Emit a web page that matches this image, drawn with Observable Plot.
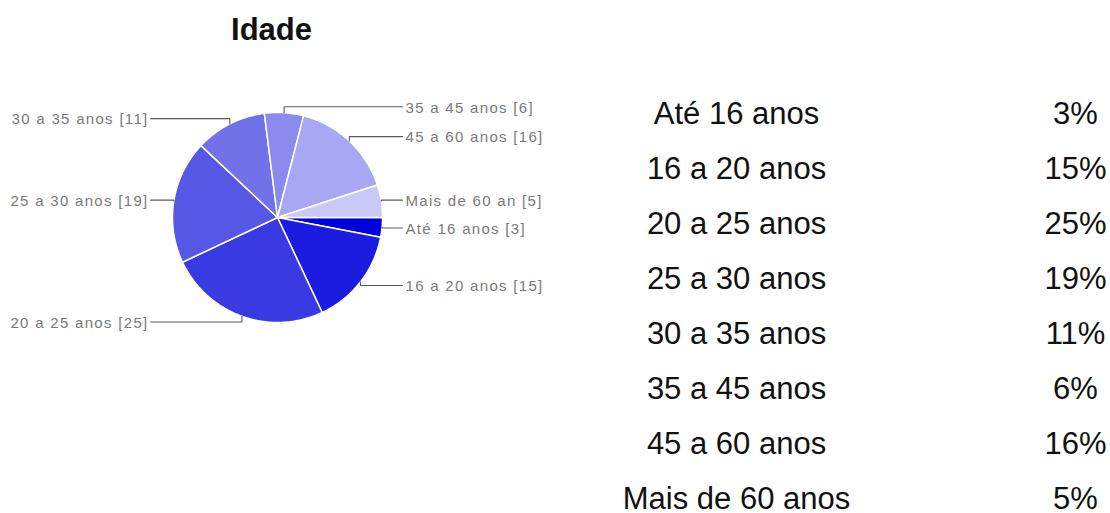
<!DOCTYPE html>
<html>
<head>
<meta charset="utf-8">
<script src="https://cdn.jsdelivr.net/npm/d3@7"></script>
<script src="https://cdn.jsdelivr.net/npm/@observablehq/plot@0.6"></script>
<style>
  html, body { margin: 0; padding: 0; background: #ffffff; }
  #chart svg { display: block; font-family: "Liberation Sans", Arial, Helvetica, sans-serif; }
</style>
</head>
<body>
<div id="chart"></div>
<script>
// ---- Data ----
const title = "Idade";
const categories = ["Até 16 anos", "16 a 20 anos", "20 a 25 anos", "25 a 30 anos", "30 a 35 anos", "35 a 45 anos", "45 a 60 anos", "Mais de 60 anos"];
const pieLabels = ["Até 16 anos", "16 a 20 anos", "20 a 25 anos", "25 a 30 anos", "30 a 35 anos", "35 a 45 anos", "45 a 60 anos", "Mais de 60 an"];
const counts = [3, 15, 25, 19, 11, 6, 16, 5];
const sliceColors = ["#0000dc", "#1c1ce0", "#3a3ae2", "#5757e6", "#7171e8", "#8b8bee", "#a7a7f3", "#c9c9f8"];

// ---- Layout ----
const W = 1110, H = 513;
const cx = 277, cy = 217, r = 105;
const total = d3.sum(counts);

// slice polygons (angles clockwise from 3 o'clock)
const slices = [];
let cum = 0;
counts.forEach((c, i) => {
  const a0 = cum / total * 2 * Math.PI;
  const a1 = (cum + c) / total * 2 * Math.PI;
  cum += c;
  const pts = [{i, x: cx, y: cy}];
  const n = Math.max(2, Math.ceil((a1 - a0) / (Math.PI / 180)));
  for (let k = 0; k <= n; k++) {
    const a = a0 + (a1 - a0) * k / n;
    pts.push({i, x: cx + r * Math.cos(a), y: cy + r * Math.sin(a)});
  }
  pts.push({i, x: cx, y: cy});
  slices.push({i, a0, a1, mid: (a0 + a1) / 2, pts});
});
const slicePts = slices.flatMap(s => s.pts);

// leader lines & labels
const leaderPts = [];
const labelRows = [];
slices.forEach(s => {
  const c = Math.cos(s.mid), sn = Math.sin(s.mid);
  const right = c > 0;
  const ex = cx + r * c, ey = cy + r * sn;
  const ly = cy + (r + 6) * sn;
  const endX = right ? cx + r + 20 : cx - r - 22;
  leaderPts.push({i: s.i, x: ex, y: ey}, {i: s.i, x: ex, y: ly}, {i: s.i, x: endX, y: ly});
  labelRows.push({
    x: right ? cx + r + 23 : cx - r - 24,
    y: ly + 1,
    text: `${pieLabels[s.i]} [${counts[s.i]}]`,
    anchor: right ? "start" : "end"
  });
});

// table rows
const tableRows = categories.map((cat, i) => ({
  cat,
  pct: Math.round(counts[i] / total * 100) + "%",
  y: 113.5 + i * 55
}));

const svg = Plot.plot({
  width: W,
  height: H,
  margin: 0,
  x: {domain: [0, W], range: [0, W], axis: null},
  y: {domain: [0, H], range: [0, H], axis: null},
  color: {type: "identity"},
  marks: [
    Plot.line(slicePts, {
      x: "x", y: "y", z: "i",
      fill: d => sliceColors[d.i],
      stroke: "#ffffff", strokeWidth: 1.5, strokeLinejoin: "round",
      curve: "linear"
    }),
    Plot.line(leaderPts, {x: "x", y: "y", z: "i", stroke: "#5a5a5a", strokeWidth: 1.1, curve: "linear"}),
    Plot.text(labelRows.filter(d => d.anchor === "start"), {
      x: "x", y: "y", text: "text", textAnchor: "start",
      fill: "#7a7a7a", fontSize: 15
    }),
    Plot.text(labelRows.filter(d => d.anchor === "end"), {
      x: "x", y: "y", text: "text", textAnchor: "end",
      fill: "#7a7a7a", fontSize: 15
    }),
    Plot.text([title], {
      x: () => 271, y: () => 29.5, text: d => d,
      fontSize: 31, fontWeight: "bold", fill: "#111111"
    }),
    Plot.text(tableRows, {x: () => 736, y: "y", text: "cat", fontSize: 31, fill: "#111111"}),
    Plot.text(tableRows, {x: () => 1075, y: "y", text: "pct", fontSize: 31, fill: "#111111"})
  ]
});

svg.querySelectorAll("text").forEach(t => {
  if (t.textContent.includes("[")) t.setAttribute("letter-spacing", "1.3");
});
document.getElementById("chart").appendChild(svg);
</script>
</body>
</html>
